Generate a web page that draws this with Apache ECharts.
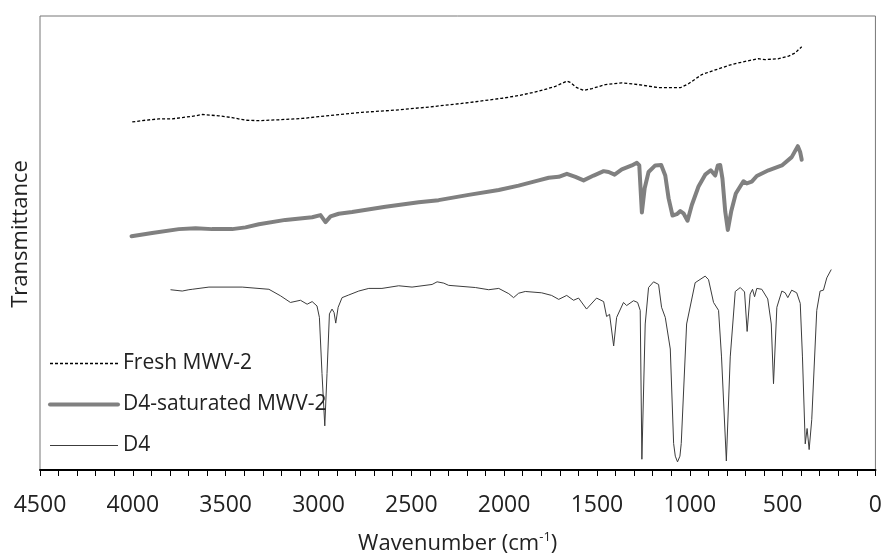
<!DOCTYPE html>
<html>
<head>
<meta charset="utf-8">
<script src="https://cdn.jsdelivr.net/npm/echarts@6/dist/echarts.min.js"></script>
<style>
html,body{margin:0;padding:0;background:#fff;}
#chart{width:885px;height:560px;}
</style>
</head>
<body>
<div id="chart"></div>
<script>
// ---- Data (wavenumber in cm^-1, transmittance in arbitrary offset units) ----
const seriesNames = ['Fresh MWV-2', 'D4-saturated MWV-2', 'D4'];

const freshX = [4003,3932,3860,3788,3734,3662,3626,3537,3465,3393,3321,3214,3088,2998,2908,2765,2585,2406,2191,2012,1922,1814,1724,1662,1644,1608,1572,1527,1455,1366,1276,1168,1114,1051,1007,935,845,774,701,630,594,522,468,432,414,397];
const freshY = [77.9,78.3,78.6,78.6,78.9,79.3,79.6,79.3,78.9,78.3,78.2,78.4,78.7,79.1,79.5,80.1,80.6,81.3,82.3,83.3,83.9,84.9,86.0,87.2,86.9,85.7,85.1,85.5,86.4,86.8,86.4,85.7,85.7,85.7,86.6,88.7,90.0,91.0,91.7,92.3,92.1,92.3,92.9,93.6,94.4,95.0];

const satX = [4007,3896,3752,3662,3573,3465,3393,3321,3178,3034,2989,2962,2935,2891,2819,2639,2460,2353,2191,2029,1922,1814,1760,1706,1662,1616,1572,1518,1464,1437,1405,1366,1312,1285,1272,1258,1243,1222,1186,1154,1132,1114,1093,1070,1051,1034,1012,989,953,917,887,863,849,836,824,809,795,777,752,711,693,666,639,576,504,451,418,405,397];
const satY = [51.9,52.6,53.5,53.7,53.5,53.5,53.9,54.6,55.6,56.2,56.7,55.1,56.4,57.0,57.4,58.6,59.6,60.1,61.3,62.4,63.4,64.6,65.2,65.4,66.1,65.4,64.6,65.7,66.7,66.5,65.9,67.1,68.0,68.6,68.0,57.3,62.8,66.5,68.0,68.1,65.7,60.5,56.6,56.9,57.6,57.1,55.4,59.0,63.2,65.9,66.9,65.7,68.0,68.1,65.0,57.5,53.3,57.5,61.6,64.4,63.9,64.3,65.6,66.9,68.0,69.9,72.4,71.0,69.3];

const d4X = [3797,3734,3698,3680,3590,3411,3267,3204,3151,3097,3061,3034,3008,2995,2981,2966,2954,2941,2927,2916,2907,2894,2873,2837,2783,2729,2658,2568,2496,2388,2361,2325,2299,2155,2083,2029,1975,1949,1922,1886,1798,1744,1706,1663,1626,1599,1556,1502,1464,1448,1432,1410,1394,1357,1340,1303,1281,1267,1258,1240,1222,1195,1168,1152,1132,1105,1087,1078,1066,1053,1046,1017,971,917,899,872,845,829,803,782,755,728,705,691,675,662,651,639,612,580,561,549,531,504,486,472,451,424,405,393,378,368,357,343,316,298,280,262,238];
const d4Y = [39.7,39.4,39.7,39.8,40.3,40.3,39.8,38.3,36.8,37.3,36.4,37.0,36.0,33.4,20.6,8.7,20.6,34.2,35.3,34.5,32.1,35.7,37.9,38.5,39.4,40.0,40.0,40.6,40.3,40.9,41.5,41.2,40.7,40.2,39.7,40.0,38.8,37.9,38.9,39.3,39.0,38.4,37.5,38.4,37.3,37.8,35.3,37.8,37.0,33.6,34.1,26.9,33.4,36.8,36.1,37.2,36.8,35.0,1.1,31.9,40.2,41.5,40.9,35.7,33.4,26.2,4.7,1.8,0.5,1.8,4.7,31.9,41.3,42.8,42.0,36.8,35.0,24.4,0.7,24.4,39.3,40.2,39.2,30.2,38.7,39.8,38.1,40.0,39.8,37.6,31.9,18.3,35.7,39.4,39.0,37.9,39.6,39.0,36.6,24.4,4.6,8.1,3.3,10.1,35.0,39.4,39.6,42.4,44.3];

const xTickLabels = [4500,4000,3500,3000,2500,2000,1500,1000,500,0];

function pairs(xs, ys){ return xs.map((x,i)=>[x, ys[i]]); }

const FONT = '"Open Sans", "Noto Sans", sans-serif';
const lineStyles = [
  {color: '#000', width: 1.3, type: [3, 2]},
  {color: '#808080', width: 4, cap: 'round', join: 'round'},
  {color: '#3c3c3c', width: 1}
];

const chart = echarts.init(document.getElementById('chart'), null, {renderer:'canvas'});

chart.setOption({
  animation: false,
  backgroundColor: '#ffffff',
  textStyle: {fontFamily: FONT, color: '#222'},
  grid: {left: 40, right: 8, top: 16, bottom: 86, show: true, borderColor: '#777', borderWidth: 1, backgroundColor: 'transparent'},
  legend: {
    orient: 'vertical', left: 48, top: 353, padding: 0,
    itemWidth: 68, itemHeight: 14, itemGap: 20,
    itemStyle: {opacity: 0},
    textStyle: {fontFamily: FONT, fontSize: 21, color: '#222', lineHeight: 21},
    data: seriesNames.map((n, i) => ({name: n, lineStyle: Object.assign({opacity: 1}, lineStyles[i]), itemStyle: {opacity: 0}}))
  },
  xAxis: {
    type: 'value', min: 0, max: 4500, interval: 100, inverse: true,
    name: '{a|Wavenumber (cm}{s|-1}{a|)}',
    nameLocation: 'middle', nameGap: 61,
    nameTextStyle: {
      rich: {
        a: {fontFamily: FONT, fontSize: 22, color: '#222', lineHeight: 26},
        s: {fontFamily: FONT, fontSize: 13, color: '#222', verticalAlign: 'top', lineHeight: 14}
      }
    },
    axisLine: {show: true, onZero: false, lineStyle: {color: '#000', width: 2}},
    axisTick: {show: true, inside: false, length: 6, lineStyle: {color: '#000', width: 1}},
    axisLabel: {
      margin: 24, fontFamily: FONT, fontSize: 23, color: '#222',
      showMinLabel: true, showMaxLabel: true,
      formatter: v => (xTickLabels.indexOf(v) >= 0 ? String(v) : '')
    },
    splitLine: {show: false}
  },
  yAxis: {
    type: 'value', min: -1.35, max: 102.03,
    name: 'Transmittance', nameLocation: 'middle', nameGap: 8,
    nameTextStyle: {fontFamily: FONT, fontSize: 22, color: '#222', padding: [0, 0, 0, 18]},
    axisLine: {show: false}, axisTick: {show: false}, axisLabel: {show: false}, splitLine: {show: false}
  },
  series: [
    {name: seriesNames[0], type: 'line', data: pairs(freshX, freshY), showSymbol: false, symbol: 'none',
     lineStyle: lineStyles[0], itemStyle: {color: '#000'}},
    {name: seriesNames[1], type: 'line', data: pairs(satX, satY), showSymbol: false, symbol: 'none',
     lineStyle: lineStyles[1], itemStyle: {color: '#808080'}},
    {name: seriesNames[2], type: 'line', data: pairs(d4X, d4Y), showSymbol: false, symbol: 'none',
     lineStyle: lineStyles[2], itemStyle: {color: '#3c3c3c'}}
  ]
});
</script>
</body>
</html>
